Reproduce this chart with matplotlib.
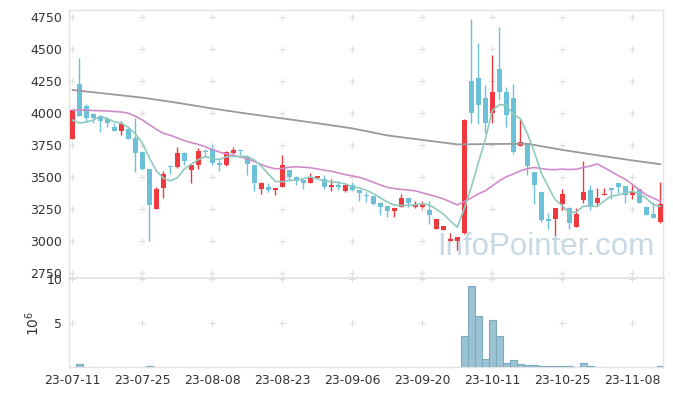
import matplotlib
matplotlib.use("Agg")
import matplotlib.pyplot as plt
import numpy as np
import pandas as pd

# daily candles, 2023-07-11 .. 2023-11-14 (trading days)
opens = [3800, 4230, 4055, 3990, 3975, 3950, 3890, 3862, 3877, 3805,
         3695, 3562, 3252, 3417, 3590, 3580, 3685, 3555, 3591, 3705,
         3716, 3612, 3591, 3685, 3711, 3654, 3591, 3409, 3422, 3401,
         3424, 3555, 3502, 3477, 3451, 3492, 3487, 3424, 3435, 3393,
         3435, 3398, 3357, 3352, 3300, 3273, 3237, 3268, 3336, 3263,
         3263, 3242, 3096, 3086, 3002, 3002, 3060, 4250, 4273, 4117,
         3998, 4341, 4164, 4117, 3745, 3763, 3537, 3383, 3169, 3174,
         3287, 3258, 3112, 3320, 3398, 3300, 3359, 3414, 3451, 3430,
         3362, 3404, 3268, 3211, 3151]
highs = [4025, 4430, 4070, 4000, 3985, 3970, 3925, 3940, 3890, 3960,
         3700, 3565, 3425, 3545, 3592, 3732, 3695, 3595, 3727, 3716,
         3752, 3633, 3700, 3732, 3712, 3669, 3595, 3460, 3450, 3415,
         3672, 3558, 3505, 3480, 3534, 3510, 3518, 3487, 3466, 3437,
         3461, 3400, 3383, 3355, 3302, 3275, 3260, 3367, 3338, 3310,
         3310, 3310, 3170, 3118, 3060, 3030, 3950, 4732, 4544, 4221,
         4453, 4675, 4206, 4227, 3950, 3765, 3540, 3386, 3216, 3258,
         3406, 3262, 3258, 3625, 3435, 3414, 3414, 3416, 3453, 3432,
         3435, 3410, 3270, 3305, 3464]
lows = [3800, 3975, 3940, 3925, 3850, 3890, 3860, 3826, 3795, 3540,
        3555, 3000, 3250, 3335, 3523, 3568, 3595, 3450, 3560, 3660,
        3591, 3545, 3588, 3683, 3670, 3513, 3388, 3365, 3385, 3357,
        3420, 3477, 3435, 3409, 3450, 3490, 3410, 3393, 3395, 3383,
        3390, 3310, 3305, 3285, 3206, 3190, 3190, 3265, 3268, 3260,
        3260, 3133, 3094, 3085, 3000, 2930, 3058, 3920, 3914, 3841,
        3924, 4102, 3888, 3680, 3743, 3516, 3287, 3148, 3096, 3044,
        3242, 3091, 3110, 3294, 3242, 3273, 3357, 3331, 3372, 3294,
        3331, 3298, 3200, 3180, 3138]
closes = [4025, 3980, 3965, 3965, 3940, 3925, 3860, 3914, 3800, 3685,
          3560, 3284, 3404, 3523, 3580, 3685, 3627, 3591, 3701, 3697,
          3607, 3591, 3695, 3711, 3700, 3602, 3455, 3455, 3401, 3414,
          3594, 3502, 3471, 3451, 3492, 3508, 3424, 3440, 3424, 3435,
          3398, 3377, 3352, 3289, 3268, 3237, 3258, 3336, 3300, 3284,
          3284, 3206, 3169, 3117, 3013, 3029, 3945, 4002, 4065, 3924,
          4167, 4167, 3984, 3698, 3771, 3588, 3440, 3164, 3160, 3255,
          3367, 3143, 3211, 3383, 3268, 3339, 3367, 3401, 3424, 3357,
          3383, 3300, 3203, 3182, 3289]
# volume in millions of shares
volumes = [0.02, 0.34, 0.02, 0.02, 0.02, 0.02, 0.02, 0.02, 0.02, 0.02,
           0.02, 0.12, 0.02, 0.02, 0.02, 0.02, 0.02, 0.02, 0.02, 0.02,
           0.02, 0.02, 0.02, 0.02, 0.02, 0.02, 0.02, 0.02, 0.02, 0.02,
           0.02, 0.02, 0.02, 0.02, 0.02, 0.02, 0.02, 0.02, 0.02, 0.02,
           0.02, 0.02, 0.02, 0.02, 0.02, 0.02, 0.02, 0.02, 0.02, 0.02,
           0.02, 0.02, 0.02, 0.02, 0.02, 0.02, 3.52, 9.24, 5.83, 0.91,
           5.38, 3.52, 0.45, 0.83, 0.37, 0.26, 0.25, 0.15, 0.15, 0.10,
           0.08, 0.12, 0.05, 0.45, 0.10, 0.02, 0.02, 0.02, 0.02, 0.02,
           0.02, 0.02, 0.02, 0.02, 0.10]

ma5_head = [3945, 3922, 3930, 3945]
ma20_head = [4023, 4023, 4022, 4020, 4018, 4016, 4012, 4008, 3998, 3974,
             3945, 3909, 3872, 3841, 3826, 3805, 3784, 3768, 3755]
# long moving average, read at every 5th session
ma_long_idx = [0, 5, 10, 15, 20, 25, 30, 35, 40, 45, 50, 55, 60, 65, 70, 75, 80, 84]
ma_long = [4180, 4150, 4120, 4080, 4035, 3995, 3958, 3920, 3880, 3825,
           3790, 3755, 3758, 3760, 3712, 3670, 3630, 3600]

tick_labels = ["23-07-11", "23-07-25", "23-08-08", "23-08-23", "23-09-06",
               "23-09-20", "23-10-11", "23-10-25", "23-11-08"]

df = pd.DataFrame({"open": opens, "high": highs, "low": lows,
                   "close": closes, "vol": volumes})
n = len(df)
x = np.arange(n)

ma5 = df["close"].rolling(5).mean().to_numpy()
ma5[:4] = ma5_head
ma20 = df["close"].rolling(20).mean().to_numpy()
ma20[:19] = ma20_head

up_color = "#ee3a3f"
down_color = "#6cc1d9"
grid_color = "#dcdcdc"
spine_color = "#e3e3e3"

fig = plt.figure(figsize=(6.73, 3.96), dpi=100)
ax = fig.add_axes([69 / 673, 1 - 278 / 396, (663 - 69) / 673, (278 - 10) / 396])
axv = fig.add_axes([69 / 673, 1 - 367 / 396, (663 - 69) / 673, (367 - 279) / 396])

up = df["close"] >= df["open"]
colors = np.where(up, up_color, down_color)
body_low = np.minimum(df["open"], df["close"])
body_h = np.maximum(np.abs(df["close"] - df["open"]), 6)

ax.vlines(x, df["low"], df["high"], colors=colors, linewidth=1.0, zorder=3)
ax.bar(x, body_h, bottom=body_low, width=0.72, color=colors, linewidth=0, zorder=4)

ax.plot(ma_long_idx, ma_long, color="#9a9a9a", linewidth=1.3, zorder=5)
ax.plot(x, ma20, color="#cf8cc8", linewidth=1.2, zorder=5)
ax.plot(x, ma5, color="#8fcabf", linewidth=1.2, zorder=5)

xticks = np.arange(0, n, 10)
yticks = np.arange(2750, 4751, 250)
ax.set_xlim(-0.5, 84.4)
ax.set_ylim(2711, 4805)
ax.set_xticks(xticks)
ax.set_xticklabels([])
ax.set_yticks(yticks)
gx, gy = np.meshgrid(xticks, yticks)
ax.scatter(gx.ravel(), gy.ravel(), marker="+", s=14, color=grid_color,
           linewidths=0.8, zorder=1, clip_on=False)

ax.text(0.985, 0.06, "InfoPointer.com", transform=ax.transAxes,
        ha="right", va="bottom", fontsize=22.5, family="Liberation Sans",
        color="#c6d9e5", zorder=2)

# volume
axv.bar(x, df["vol"], width=1.0, color="#9bc3d3", edgecolor="#7aaabf",
        linewidth=0.8, zorder=3)
axv.set_xlim(-0.5, 84.4)
axv.set_ylim(0, 10)
axv.set_yticks([5, 10])
axv.set_yticklabels(["5", "10"])
axv.set_xticks(xticks)
axv.set_xticklabels(tick_labels)
gx, gy = np.meshgrid(xticks, [5, 10])
axv.scatter(gx.ravel(), gy.ravel(), marker="+", s=14, color=grid_color,
            linewidths=0.8, zorder=1, clip_on=False)
axv.set_ylabel(r"$10^6$", fontsize=10, color="#333333", labelpad=3)

for a in (ax, axv):
    a.tick_params(length=0, labelsize=9, colors="#333333", pad=5)
    for s in a.spines.values():
        s.set_color(spine_color)
        s.set_linewidth(1.0)
ax.spines["bottom"].set_linewidth(2.0)
axv.spines["top"].set_visible(False)

fig.savefig("out.png", dpi=100)
